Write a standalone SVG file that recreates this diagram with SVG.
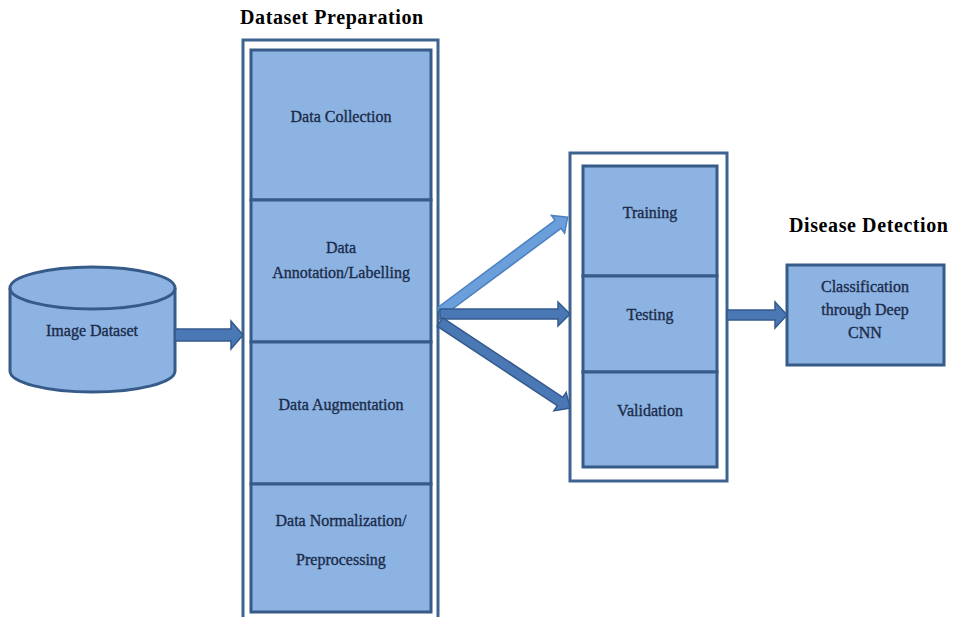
<svg xmlns="http://www.w3.org/2000/svg" width="954" height="617" viewBox="0 0 954 617">
<style>
.frame{fill:#ffffff;stroke:#3d6391;stroke-width:3}
.box{fill:#8db3e2;stroke:#375b88;stroke-width:3}
.lbl{font-family:"Liberation Serif","Times New Roman",serif;font-size:16px;fill:#1b2b4b;stroke:#1b2b4b;stroke-width:0.35;text-anchor:middle}
.title{font-family:"Liberation Serif","Times New Roman",serif;font-size:20px;font-weight:bold;fill:#000;letter-spacing:0.6px}
.arr{fill:#4a78b5;stroke:#345a8c;stroke-width:1.5;stroke-linejoin:miter}
.arrL{fill:#6a9fdc;stroke:#4d80bd;stroke-width:1.5}
</style>
<rect width="954" height="617" fill="#ffffff"/>

<text class="title" x="240" y="24">Dataset Preparation</text>
<text class="title" x="789" y="232">Disease Detection</text>

<g id="image-dataset">
<path class="box" d="M10,288 L10,371 A82.5,21 0 0 0 175,371 L175,288"/>
<ellipse class="box" cx="92.5" cy="288" rx="82.5" ry="21"/>
<text class="lbl" x="92" y="336">Image Dataset</text>
</g>

<g id="dataset-preparation">
<rect class="frame" x="243" y="40" width="195" height="590"/>
<g id="data-collection">
<rect class="box" x="251" y="50" width="180" height="150"/>
<text class="lbl" x="341" y="122">Data Collection</text>
</g>
<g id="data-annotation">
<rect class="box" x="251" y="200" width="180" height="142"/>
<text class="lbl" x="341" y="253">Data</text>
<text class="lbl" x="341" y="278">Annotation/Labelling</text>
</g>
<g id="data-augmentation">
<rect class="box" x="251" y="342" width="180" height="142"/>
<text class="lbl" x="341" y="410">Data Augmentation</text>
</g>
<g id="data-normalization">
<rect class="box" x="251" y="484" width="180" height="128"/>
<text class="lbl" x="341" y="526">Data Normalization/</text>
<text class="lbl" x="341" y="565">Preprocessing</text>
</g>
</g>

<g id="model-stages">
<rect class="frame" x="570" y="153" width="157" height="328"/>
<g id="training">
<rect class="box" x="583" y="166" width="134" height="110"/>
<text class="lbl" x="650" y="218">Training</text>
</g>
<g id="testing">
<rect class="box" x="583" y="276" width="134" height="96"/>
<text class="lbl" x="650" y="320">Testing</text>
</g>
<g id="validation">
<rect class="box" x="583" y="372" width="134" height="95"/>
<text class="lbl" x="650" y="416">Validation</text>
</g>
</g>

<g id="disease-detection">
<rect class="box" x="787" y="265" width="157" height="100"/>
<text class="lbl" x="865" y="292">Classification</text>
<text class="lbl" x="865" y="315">through Deep</text>
<text class="lbl" x="865" y="338">CNN</text>
</g>

<g id="connectors">
<polygon class="arr" points="175,329 231,329 231,321 243,335 231,349 231,341 175,341"/>
<polygon class="arrL" transform="translate(440,312) rotate(-36.6)" points="0,-5 147,-5 147,-11 159,0 147,11 147,5 0,5"/>
<polygon class="arr" points="440,309 558,309 558,302 570,314 558,326 558,319 440,319"/>
<polygon class="arr" transform="translate(440,322) rotate(33.5)" points="0,-5 144,-5 144,-11 156,0 144,11 144,5 0,5"/>
<polygon class="arr" points="727,310 775,310 775,302 787,315 775,328 775,320 727,320"/>
</g>
</svg>
